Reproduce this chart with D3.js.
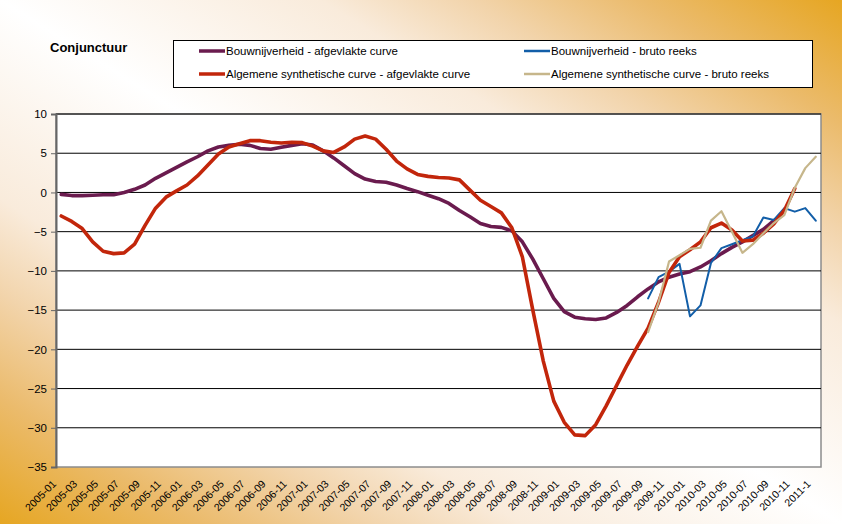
<!DOCTYPE html>
<html>
<head>
<meta charset="utf-8">
<script src="https://cdn.jsdelivr.net/npm/d3@7"></script>
<style>
  body { margin: 0; }
  svg { display: block; font-family: "Liberation Sans", Arial, sans-serif; }
</style>
</head>
<body>
<div id="viz"></div>
<script>
// months 2005-01 .. 2011-01
var months = [];
for (var yr = 2005; yr <= 2011; yr++) {
	for (var m = 1; m <= 12; m++) {
		if (yr == 2011 && m > 1) break;
		months.push(yr + "-" + (m < 10 ? "0" + m : m));
	}
}

// every second month gets a label, last one is printed as "2011-1"
var tickLabels = ["2005-01","2005-03","2005-05","2005-07","2005-09","2005-11",
	"2006-01","2006-03","2006-05","2006-07","2006-09","2006-11",
	"2007-01","2007-03","2007-05","2007-07","2007-09","2007-11",
	"2008-01","2008-03","2008-05","2008-07","2008-09","2008-11",
	"2009-01","2009-03","2009-05","2009-07","2009-09","2009-11",
	"2010-01","2010-03","2010-05","2010-07","2010-09","2010-11","2011-1"];

var yTicks = [10, 5, 0, -5, -10, -15, -20, -25, -30, -35];

var bouwAfgevlakt = [-0.25,-0.4,-0.4,-0.35,-0.3,-0.3,0.0,0.4,0.95,1.8,2.5,3.2,
	3.9,4.55,5.3,5.8,6.0,6.15,6.0,5.6,5.5,5.75,6.0,6.2,
	6.05,5.3,4.4,3.4,2.4,1.7,1.4,1.3,0.95,0.5,0.1,-0.35,
	-0.8,-1.4,-2.3,-3.1,-3.95,-4.35,-4.45,-4.9,-6.3,-8.5,-11.0,-13.5,
	-15.2,-15.9,-16.1,-16.2,-16.0,-15.3,-14.4,-13.3,-12.3,-11.4,-10.8,-10.4,
	-10.1,-9.5,-8.7,-7.8,-7.0,-6.3,-5.5,-4.7,-3.6,null,null,null,
	null];

var bouwBruto = [null,null,null,null,null,null,null,null,null,null,null,null,
	null,null,null,null,null,null,null,null,null,null,null,null,
	null,null,null,null,null,null,null,null,null,null,null,null,
	null,null,null,null,null,null,null,null,null,null,null,null,
	null,null,null,null,null,null,null,null,-13.5,-10.8,-10.1,-9.1,
	-15.8,-14.4,-9.0,-7.1,-6.6,-6.1,-5.6,-3.2,-3.5,-2.0,-2.45,-2.0,
	-3.6];

var algAfgevlakt = [-3.0,-3.7,-4.6,-6.3,-7.5,-7.8,-7.7,-6.6,-4.2,-2.0,-0.6,0.2,
	0.95,2.1,3.5,4.9,5.8,6.2,6.6,6.6,6.4,6.3,6.4,6.35,
	5.9,5.3,5.1,5.8,6.8,7.2,6.8,5.5,4.0,3.0,2.3,2.05,
	1.9,1.85,1.6,0.3,-1.0,-1.8,-2.6,-4.5,-8.2,-15.0,-21.5,-26.6,
	-29.3,-30.9,-31.0,-29.6,-27.2,-24.6,-22.0,-19.6,-17.3,-14.0,-10.2,-8.2,
	-7.3,-6.3,-4.5,-3.9,-4.8,-6.2,-6.1,-5.2,-4.0,-2.3,0.5,null,
	null];

var algBruto = [null,null,null,null,null,null,null,null,null,null,null,null,
	null,null,null,null,null,null,null,null,null,null,null,null,
	null,null,null,null,null,null,null,null,null,null,null,null,
	null,null,null,null,null,null,null,null,null,null,null,null,
	null,null,null,null,null,null,null,null,-17.8,-14.0,-8.8,-8.0,
	-7.2,-7.05,-3.6,-2.4,-5.0,-7.7,-6.6,-5.2,-3.9,-2.9,0.6,3.1,
	4.55];

var seriesNames = ["Bouwnijverheid - afgevlakte curve", "Bouwnijverheid - bruto reeks",
	"Algemene synthetische curve - afgevlakte curve", "Algemene synthetische curve - bruto reeks"];

var W = 842, H = 524;
var plotLeft = 56, plotRight = 821, plotTop = 114, plotBottom = 467;

var svg = d3.select("#viz").append("svg")
	.attr("width", W)
	.attr("height", H);

// background: diagonal orange - white - orange
var grad = svg.append("defs").append("linearGradient")
	.attr("id", "bg")
	.attr("x1", 0).attr("y1", 1)
	.attr("x2", 1).attr("y2", 0);
var stops = [[0, "#e6a622"], [0.12, "#ebbb6c"], [0.22, "#f2d4ab"], [0.31, "#f9ebdb"], [0.5, "#ffffff"],
	[0.69, "#f9ebdb"], [0.78, "#f2d4ab"], [0.88, "#ebbb6c"], [1, "#e6a622"]];
stops.forEach(function(s) {
	grad.append("stop").attr("offset", s[0]).attr("stop-color", s[1]);
});

svg.append("rect")
	.attr("width", W)
	.attr("height", H)
	.attr("fill", "url(#bg)");

var x = d3.scalePoint()
	.domain(months)
	.range([plotLeft, plotRight])
	.padding(0.5);

var y = d3.scaleLinear()
	.domain([-35, 10])
	.range([plotBottom, plotTop]);

// plot area
svg.append("rect")
	.attr("x", plotLeft)
	.attr("y", plotTop)
	.attr("width", plotRight - plotLeft)
	.attr("height", plotBottom - plotTop)
	.attr("fill", "#ffffff")
	.attr("stroke", "#8c8c8c")
	.attr("stroke-width", 1.5);

// gridlines
svg.append("g").selectAll("line")
	.data(yTicks.filter(function(d) { return d > -35; }))
	.enter().append("line")
	.attr("x1", plotLeft)
	.attr("x2", plotRight)
	.attr("y1", function(d) { return y(d); })
	.attr("y2", function(d) { return y(d); })
	.attr("stroke", "#000")
	.attr("stroke-width", 1);

// y axis
var yAxis = svg.append("g")
	.attr("transform", "translate(" + plotLeft + ",0)")
	.call(d3.axisLeft(y).tickValues(yTicks).tickSize(5).tickPadding(4));
yAxis.select(".domain").attr("stroke", "#666").attr("stroke-width", 2);
yAxis.selectAll(".tick line").attr("stroke", "#666");
yAxis.selectAll("text")
	.attr("font-size", 11.5)
	.attr("fill", "#000")
	.attr("font-family", "Liberation Sans, Arial, sans-serif");

// x labels
svg.append("g").selectAll("text")
	.data(tickLabels)
	.enter().append("text")
	.attr("transform", function(d, i) {
		return "translate(" + (x(months[i * 2]) - 7) + "," + (plotBottom + 15) + ") rotate(-45)";
	})
	.attr("text-anchor", "end")
	.attr("dy", "0.35em")
	.attr("font-size", 10.5)
	.attr("fill", "#000")
	.text(function(d) { return d; });

// lines
var line = d3.line()
	.defined(function(d) { return d != null; })
	.x(function(d, i) { return x(months[i]); })
	.y(function(d) { return y(d); });

var series = [
	{ values: bouwAfgevlakt, color: "#6a1b4e", width: 3.6 },
	{ values: bouwBruto, color: "#125ea8", width: 2 },
	{ values: algAfgevlakt, color: "#c2260b", width: 3.6 },
	{ values: algBruto, color: "#c6b68b", width: 2.2 }
];

series.forEach(function(s) {
	svg.append("path")
		.attr("d", line(s.values))
		.attr("fill", "none")
		.attr("stroke", s.color)
		.attr("stroke-width", s.width)
		.attr("stroke-linejoin", "round")
		.attr("stroke-linecap", "round");
});

// title
svg.append("text")
	.attr("x", 50)
	.attr("y", 52)
	.attr("font-size", 13)
	.attr("font-weight", "bold")
	.attr("fill", "#000")
	.text("Conjunctuur");

// legend
svg.append("rect")
	.attr("x", 173.5)
	.attr("y", 40.5)
	.attr("width", 639)
	.attr("height", 47)
	.attr("fill", "#ffffff")
	.attr("stroke", "#000")
	.attr("stroke-width", 1);

var legendPos = [[199, 51], [524, 51], [199, 74], [524, 74]];
series.forEach(function(s, i) {
	var p = legendPos[i];
	svg.append("line")
		.attr("x1", p[0])
		.attr("x2", p[0] + 26)
		.attr("y1", p[1])
		.attr("y2", p[1])
		.attr("stroke", s.color)
		.attr("stroke-width", i % 2 == 0 ? 3.5 : 2.5);
	svg.append("text")
		.attr("x", p[0] + 27)
		.attr("y", p[1])
		.attr("dy", "0.35em")
		.attr("font-size", 11.5)
		.attr("fill", "#000")
		.text(seriesNames[i]);
});
</script>
</body>
</html>
